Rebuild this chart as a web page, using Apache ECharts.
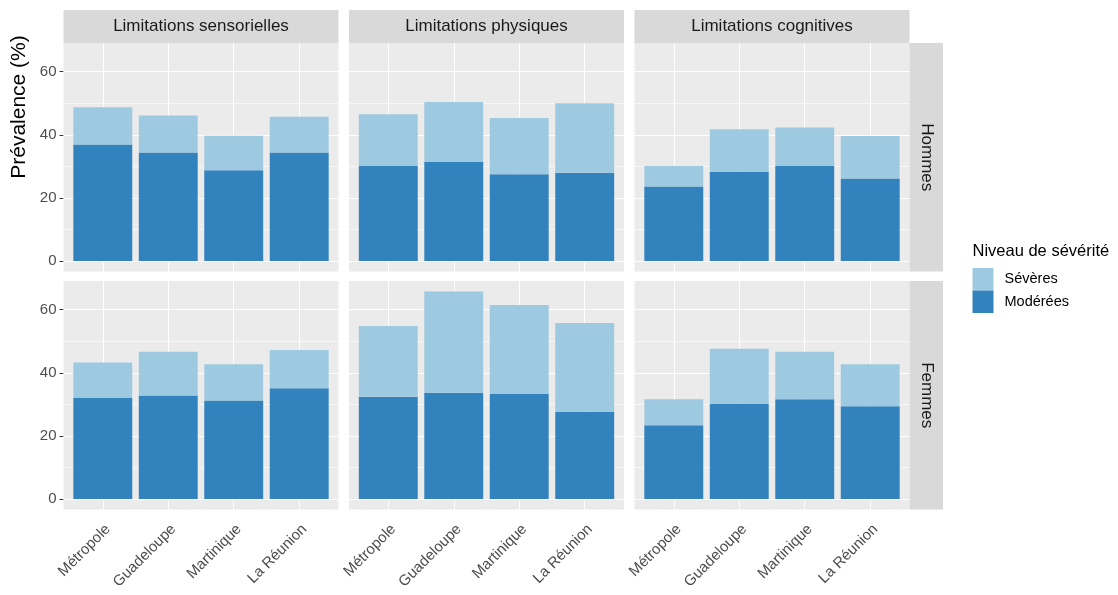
<!DOCTYPE html>
<html><head><meta charset="utf-8">
<script src="https://cdn.jsdelivr.net/npm/echarts@6/dist/echarts.min.js"></script>
<style>html,body{margin:0;padding:0;background:#fff}#c{width:1118px;height:595px}</style>
</head><body><div id="c"></div>
<script>
// ---------- data ----------
const categories = ['Métropole', 'Guadeloupe', 'Martinique', 'La Réunion'];
const limitations = ['Limitations sensorielles', 'Limitations physiques', 'Limitations cognitives'];
const sexes = ['Hommes', 'Femmes'];
const severityLevels = ['Sévères', 'Modérées'];
const yTicks = [0, 20, 40, 60];
const yMinorTicks = [10, 30, 50];

const hommesSensModerees = [36.9, 34.4, 28.8, 34.4];
const hommesSensSeveres  = [11.8, 11.7, 10.9, 11.3];
const hommesPhysModerees = [30.1, 31.4, 27.5, 28.0];
const hommesPhysSeveres  = [16.4, 19.0, 17.8, 22.0];
const hommesCogModerees  = [23.6, 28.3, 30.1, 26.2];
const hommesCogSeveres   = [6.5, 13.5, 12.2, 13.4];
const femmesSensModerees = [32.0, 32.8, 31.2, 35.1];
const femmesSensSeveres  = [11.3, 13.9, 11.5, 12.1];
const femmesPhysModerees = [32.4, 33.7, 33.3, 27.7];
const femmesPhysSeveres  = [22.4, 32.1, 28.2, 28.1];
const femmesCogModerees  = [23.4, 30.2, 31.6, 29.4];
const femmesCogSeveres   = [8.2, 17.4, 15.1, 13.3];

const panelData = [
  [[hommesSensModerees, hommesSensSeveres], [hommesPhysModerees, hommesPhysSeveres], [hommesCogModerees, hommesCogSeveres]],
  [[femmesSensModerees, femmesSensSeveres], [femmesPhysModerees, femmesPhysSeveres], [femmesCogModerees, femmesCogSeveres]]
];

// ---------- layout / style ----------
const FONT = "'Liberation Sans', Arial, sans-serif";
const LEFT0 = 63.5, PW = 275, GAPX = 10.5;
const TOP0 = 43, PH = 228.5, GAPY = 9.5;
const STRIP_H = 33, RSTRIP_W = 33.5;
const COL_MOD = '#3182BD', COL_SEV = '#9ECAE1';

let maxTotal = 0;
panelData.forEach(r => r.forEach(([m, s]) => m.forEach((v, i) => { maxTotal = Math.max(maxTotal, v + s[i]); })));
const yMin = -0.05 * maxTotal, yMax = 1.05 * maxTotal;
const xMin = 1 - 0.6, xMax = categories.length + 0.6;
const unit = PW / (xMax - xMin);
const inset = (0.5 - 0.4) * unit;

const grid = [], xAxis = [], yAxis = [], series = [], graphic = [];

for (let r = 0; r < sexes.length; r++) {
  for (let c = 0; c < limitations.length; c++) {
    const left = LEFT0 + c * (PW + GAPX);
    const top = TOP0 + r * (PH + GAPY);
    const bg = grid.length;
    // background grid (full panel)
    grid.push({ left, top, width: PW, height: PH, show: true, backgroundColor: '#EBEBEB', borderWidth: 0 });
    xAxis.push({ gridIndex: bg, type: 'value', min: xMin, max: xMax, show: false });
    yAxis.push({
      gridIndex: bg, type: 'value', min: yMin, max: yMax, show: c === 0,
      axisLine: { show: false }, splitLine: { show: false },
      axisTick: { show: true, customValues: yTicks, length: 4, lineStyle: { color: '#333333', width: 1 } },
      axisLabel: { customValues: yTicks, fontSize: 15, color: '#4D4D4D', fontFamily: FONT, margin: 7 }
    });
    series.push({
      type: 'line', xAxisIndex: bg, yAxisIndex: bg, data: [], silent: true, z: 1,
      markLine: {
        silent: true, symbol: 'none', animation: false, label: { show: false },
        lineStyle: { color: '#FFFFFF', type: 'solid' },
        data: [
          ...yMinorTicks.map(v => ({ yAxis: v, lineStyle: { width: 0.6, color: '#FFFFFF', type: 'solid' } })),
          ...yTicks.map(v => ({ yAxis: v, lineStyle: { width: 1.1, color: '#FFFFFF', type: 'solid' } })),
          ...categories.map((_, i) => ({ xAxis: i + 1, lineStyle: { width: 1.1, color: '#FFFFFF', type: 'solid' } }))
        ]
      }
    });
    // data grid (category band)
    const dg = grid.length;
    grid.push({ left: left + inset, top, width: PW - 2 * inset, height: PH, show: false });
    xAxis.push({
      gridIndex: dg, type: 'category', data: categories, show: r === sexes.length - 1,
      axisLine: { show: false }, splitLine: { show: false },
      axisTick: { show: true, alignWithLabel: true, length: 4, lineStyle: { color: '#333333', width: 1 } },
      axisLabel: { interval: 0, rotate: 45, fontSize: 15, color: '#4D4D4D', fontFamily: FONT, margin: 12, verticalAlign: 'top' }
    });
    yAxis.push({ gridIndex: dg, type: 'value', min: yMin, max: yMax, show: false });
    const [mod, sev] = panelData[r][c];
    series.push({
      type: 'bar', name: 'Modérées', stack: 'p' + r + c, xAxisIndex: dg, yAxisIndex: dg,
      data: mod, barWidth: '90%', itemStyle: { color: COL_MOD }, z: 10
    });
    series.push({
      type: 'bar', name: 'Sévères', stack: 'p' + r + c, xAxisIndex: dg, yAxisIndex: dg,
      data: sev, barWidth: '90%', itemStyle: { color: COL_SEV }, z: 10
    });
  }
}

// strips
limitations.forEach((lab, c) => {
  const left = LEFT0 + c * (PW + GAPX);
  graphic.push({ type: 'rect', shape: { x: left, y: TOP0 - STRIP_H, width: PW, height: STRIP_H }, style: { fill: '#D9D9D9' }, silent: true });
  graphic.push({ type: 'text', x: left + PW / 2, y: TOP0 - STRIP_H / 2, style: { text: lab, fill: '#1A1A1A', font: '17px ' + FONT, textAlign: 'center', textVerticalAlign: 'middle' }, silent: true });
});
sexes.forEach((lab, r) => {
  const top = TOP0 + r * (PH + GAPY);
  const x = LEFT0 + 3 * PW + 2 * GAPX;
  graphic.push({ type: 'rect', shape: { x, y: top, width: RSTRIP_W, height: PH }, style: { fill: '#D9D9D9' }, silent: true });
  graphic.push({ type: 'text', x: x + RSTRIP_W / 2, y: top + PH / 2, rotation: -Math.PI / 2, style: { text: lab, fill: '#1A1A1A', font: '17px ' + FONT, textAlign: 'center', textVerticalAlign: 'middle' }, silent: true });
});
// y axis title
graphic.push({ type: 'text', x: 19, y: 107, rotation: Math.PI / 2, style: { text: 'Prévalence (%)', fill: '#000000', font: '21px ' + FONT, textAlign: 'center', textVerticalAlign: 'middle' }, silent: true });
// legend title
graphic.push({ type: 'text', x: 972.5, y: 251, style: { text: 'Niveau de sévérité', fill: '#000000', font: '16.5px ' + FONT, textAlign: 'left', textVerticalAlign: 'middle' }, silent: true });

const chart = echarts.init(document.getElementById('c'), null, { renderer: 'canvas' });
chart.setOption({
  animation: false,
  backgroundColor: '#FFFFFF',
  textStyle: { fontFamily: FONT },
  grid, xAxis, yAxis, series, graphic,
  legend: {
    data: severityLevels, orient: 'vertical', left: 972.5, top: 268, itemWidth: 21, itemHeight: 22.5, itemGap: 0,
    icon: 'rect', padding: 0, selectedMode: false,
    textStyle: { fontSize: 14.5, color: '#000000', fontFamily: FONT, padding: [0, 0, 0, 6] }
  }
});
</script>
</body></html>
